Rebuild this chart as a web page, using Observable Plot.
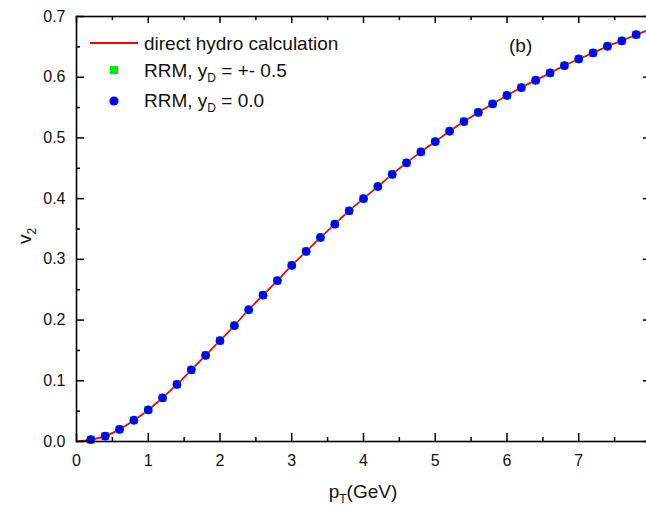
<!DOCTYPE html>
<html><head><meta charset="utf-8">
<script src="https://cdn.jsdelivr.net/npm/d3@7"></script>
<script src="https://cdn.jsdelivr.net/npm/@observablehq/plot@0.6"></script>
<style>html,body{margin:0;padding:0;background:#fff;overflow:hidden}</style>
</head><body><div id="chart"></div>
<script>
// RRM points (pT in GeV, v2)
const ptPoints = [0.2,0.4,0.6,0.8,1.0,1.2,1.4,1.6,1.8,2.0,2.2,2.4,2.6,2.8,3.0,3.2,3.4,3.6,3.8,4.0,
  4.2,4.4,4.6,4.8,5.0,5.2,5.4,5.6,5.8,6.0,6.2,6.4,6.6,6.8,7.0,7.2,7.4,7.6,7.8];
const v2RrmHalf = [0.003,0.009,0.020,0.035,0.052,0.072,0.094,0.118,0.142,0.166,0.191,0.217,0.241,0.265,0.290,0.313,0.336,0.358,0.380,0.400,
  0.420,0.440,0.459,0.477,0.494,0.511,0.527,0.542,0.556,0.570,0.583,0.595,0.607,0.619,0.630,0.640,0.651,0.660,0.670];
const v2RrmZero = [0.003,0.009,0.020,0.035,0.052,0.072,0.094,0.118,0.142,0.166,0.191,0.217,0.241,0.265,0.290,0.313,0.336,0.358,0.380,0.400,
  0.420,0.440,0.459,0.477,0.494,0.511,0.527,0.542,0.556,0.570,0.583,0.595,0.607,0.619,0.630,0.640,0.651,0.660,0.670];
// direct hydro calculation curve
const ptHydro = [0.0,0.2,0.4,0.6,0.8,1.0,1.2,1.4,1.6,1.8,2.0,2.2,2.4,2.6,2.8,3.0,3.2,3.4,3.6,3.8,4.0,
  4.2,4.4,4.6,4.8,5.0,5.2,5.4,5.6,5.8,6.0,6.2,6.4,6.6,6.8,7.0,7.2,7.4,7.6,7.8,8.0];
const v2Hydro = [0.000,0.003,0.009,0.020,0.035,0.052,0.072,0.094,0.118,0.142,0.166,0.191,0.217,0.241,0.265,0.290,0.313,0.336,0.358,0.380,0.400,
  0.420,0.440,0.459,0.477,0.494,0.511,0.527,0.542,0.556,0.570,0.583,0.595,0.607,0.619,0.630,0.640,0.651,0.660,0.670,0.679];
// ticks
const xMajor = [0,1,2,3,4,5,6,7,8];
const xLabels = [0,1,2,3,4,5,6,7];
const xMinor = [0.5,1.5,2.5,3.5,4.5,5.5,6.5,7.5];
const yMajor = [0,0.1,0.2,0.3,0.4,0.5,0.6,0.7];
const yMinor = [0.05,0.15,0.25,0.35,0.45,0.55,0.65];

const hydro = ptHydro.map((x,i)=>({pT:x, v2:v2Hydro[i]}));
const rrmHalf = ptPoints.map((x,i)=>({pT:x, v2:v2RrmHalf[i]}));
const rrmZero = ptPoints.map((x,i)=>({pT:x, v2:v2RrmZero[i]}));

const font = "'Liberation Sans', Arial, Helvetica, sans-serif";
const tks = {stroke:"#000", strokeWidth:1.5};
const id = d => d;

const plot = Plot.plot({
  width: 646, height: 505,
  marginLeft: 76, marginRight: -4, marginTop: 16, marginBottom: 64,
  style: {fontFamily: font, background:"#fff", overflow:"hidden", color:"#000"},
  x: {domain:[0,8]},
  y: {domain:[0,0.7]},
  marks: [
    Plot.line(hydro, {x:"pT", y:"v2", stroke:"#ff0000", strokeWidth:1.8, curve:"monotone-x"}),
    Plot.dot(rrmHalf, {x:"pT", y:"v2", symbol:"square", r:4.5, fill:"#00ee00", stroke:"none"}),
    Plot.dot(rrmZero, {x:"pT", y:"v2", r:4.4, fill:"#0000ff", stroke:"none"}),
    Plot.frame({stroke:"#000", strokeWidth:1.6}),
    // inward ticks on all four sides (zero-length rules stretched by insets)
    Plot.ruleX(xMajor, {x:id, y1:0, y2:0, insetBottom: 8, ...tks}),
    Plot.ruleX(xMinor, {x:id, y1:0, y2:0, insetBottom: 4, ...tks}),
    Plot.ruleX(xMajor, {x:id, y1:0.7, y2:0.7, insetBottom: -7, ...tks}),
    Plot.ruleX(xMinor, {x:id, y1:0.7, y2:0.7, insetBottom: -4, ...tks}),
    Plot.ruleY(yMajor, {y:id, x1:0, x2:0, insetRight: -8, ...tks}),
    Plot.ruleY(yMinor, {y:id, x1:0, x2:0, insetRight: -4, ...tks}),
    Plot.ruleY(yMajor, {y:id, x1:8, x2:8, insetRight: 7, ...tks}),
    Plot.ruleY(yMinor, {y:id, x1:8, x2:8, insetRight: 4, ...tks}),
    Plot.axisX({anchor:"bottom", ticks:xLabels, tickSize:0, tickPadding:13, label:null, fontSize:16, tickFormat:d3.format("d"), fill:"#111"}),
    Plot.axisY({anchor:"left", ticks:yMajor, tickSize:0, tickPadding:11, label:null, fontSize:16, tickFormat:d3.format(".1f"), fill:"#111"})
  ]
});
document.getElementById("chart").appendChild(plot);

// titles and legend
const svg = d3.select(plot);
const g = svg.append("g").attr("font-family", font).attr("fill", "#111").attr("text-anchor", "start");

const xt = g.append("text").attr("x", 363).attr("y", 498).attr("text-anchor","middle").attr("font-size", 19);
xt.append("tspan").text("p");
xt.append("tspan").attr("font-size", 12).attr("dy", 5).text("T");
xt.append("tspan").attr("dy", -5).text("(GeV)");

const yt = g.append("text").attr("transform","translate(31,236) rotate(-90)").attr("text-anchor","middle").attr("font-size", 19);
yt.append("tspan").text("v");
yt.append("tspan").attr("font-size", 12).attr("dy", 5).text("2");

g.append("text").attr("x", 509).attr("y", 52).attr("font-size", 19).text("(b)");

g.append("line").attr("x1", 90).attr("x2", 138).attr("y1", 43).attr("y2", 43).attr("stroke", "#ff0000").attr("stroke-width", 1.8);
g.append("text").attr("x", 144).attr("y", 50).attr("font-size", 19).text("direct hydro calculation");

g.append("rect").attr("x", 110).attr("y", 66).attr("width", 8).attr("height", 8).attr("fill", "#00ee00");
const t2 = g.append("text").attr("x", 144).attr("y", 77).attr("font-size", 19);
t2.append("tspan").text("RRM, y");
t2.append("tspan").attr("font-size", 12).attr("dy", 5).text("D");
t2.append("tspan").attr("dy", -5).text(" = +- 0.5");

g.append("circle").attr("cx", 114).attr("cy", 101).attr("r", 4.6).attr("fill", "#0000ff");
const t3 = g.append("text").attr("x", 144).attr("y", 107).attr("font-size", 19);
t3.append("tspan").text("RRM, y");
t3.append("tspan").attr("font-size", 12).attr("dy", 5).text("D");
t3.append("tspan").attr("dy", -5).text(" = 0.0");
</script>
</body></html>
